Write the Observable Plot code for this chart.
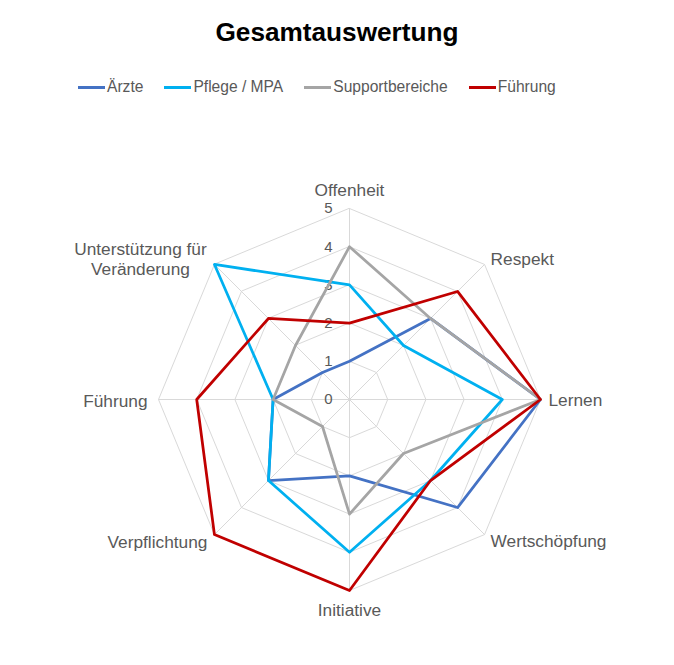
<!DOCTYPE html>
<html>
<head>
<meta charset="utf-8">
<script src="https://cdn.jsdelivr.net/npm/d3@7"></script>
<script src="https://cdn.jsdelivr.net/npm/@observablehq/plot@0.6"></script>
<style>
  html, body { margin: 0; padding: 0; background: #fff; }
  body { width: 674px; height: 665px; position: relative; font-family: "Liberation Sans", Arial, sans-serif; overflow: hidden; }
  #header { position: relative; width: 674px; height: 110px; }
  #title { position: absolute; left: 0; width: 674px; top: 17px; text-align: center; font-weight: bold; font-size: 26.2px; line-height: 30px; color: #000; }
  #legend { position: absolute; left: 78px; top: 78px; display: flex; align-items: center; font-size: 15.6px; line-height: 18px; color: #595959; white-space: nowrap; }
  .item { display: flex; align-items: center; margin-right: 21px; }
  .sw { display: inline-block; width: 27px; height: 3px; margin-right: 2px; }
</style>
</head>
<body>
<div id="header">
  <div id="title">Gesamtauswertung</div>
  <div id="legend"></div>
</div>
<div id="chart"></div>
<script>
const categories = ["Offenheit", "Respekt", "Lernen", "Wertschöpfung", "Initiative", "Verpflichtung", "Führung", "Unterstützung für\nVeränderung"];
const seriesNames = ["Ärzte", "Pflege / MPA", "Supportbereiche", "Führung"];
const aerzte   = [1, 3, 5, 4, 2, 3, 2, 1];
const pflege   = [3, 2, 4, 3, 4, 3, 2, 5];
const support  = [4, 3, 5, 2, 3, 1, 2, 2];
const fuehrung = [2, 4, 5, 3, 5, 5, 4, 3];
const tickValues = [0, 1, 2, 3, 4, 5];
const ringLevels = [1, 2, 3, 4, 5];
const seriesColors = ["#4472C4", "#00B0F0", "#A5A5A5", "#C00000"];

const seriesValues = [aerzte, pflege, support, fuehrung];
const N = categories.length;
const angle = i => i * 2 * Math.PI / N;
const maxV = 5;

// legend
const legend = document.getElementById("legend");
seriesNames.forEach((name, k) => {
  const it = document.createElement("div");
  it.className = "item";
  const sw = document.createElement("span");
  sw.className = "sw";
  sw.style.background = seriesColors[k];
  const tx = document.createElement("span");
  tx.textContent = name;
  it.appendChild(sw); it.appendChild(tx);
  legend.appendChild(it);
});

// data tables
const seriesPts = [];
seriesNames.forEach((name, k) => {
  seriesValues[k].forEach((v, i) => {
    seriesPts.push({series: name, cat: categories[i], x: v * Math.sin(angle(i)), y: v * Math.cos(angle(i))});
  });
});
const ringPts = [];
ringLevels.forEach(l => categories.forEach((c, i) => ringPts.push({level: l, x: l * Math.sin(angle(i)), y: l * Math.cos(angle(i))})));
const spokes = categories.map((c, i) => ({cat: c, x2: maxV * Math.sin(angle(i)), y2: maxV * Math.cos(angle(i))}));
const ticksData = tickValues.map(t => ({t, label: String(t)}));
const labelPts = categories.map((c, i) => ({cat: c, i, x: maxV * Math.sin(angle(i)), y: maxV * Math.cos(angle(i))}));

const W = 674, H = 555, cx = 349, cy = 289, unit = 191 / maxV;
const txt = "#595959";
const font = "Liberation Sans, Arial, sans-serif";

function labelMark(i, anchor, dx, dy) {
  return Plot.text(labelPts.filter(d => d.i === i), {
    x: "x", y: "y", text: "cat", textAnchor: anchor, lineAnchor: "middle",
    dx, dy, fontSize: 17.3, lineHeight: 1.2, fill: txt
  });
}

const marks = [
  Plot.link(spokes, {x1: () => 0, y1: () => 0, x2: "x2", y2: "y2", stroke: "#D9D9D9", strokeWidth: 1}),
  Plot.line(ringPts, {x: "x", y: "y", z: "level", curve: "linear-closed", stroke: "#D9D9D9", strokeWidth: 1}),
  Plot.text(ticksData, {x: () => 0, y: "t", text: "label", textAnchor: "end", dx: -17, fontSize: 15, fill: txt}),
  ...seriesNames.map((name, k) => Plot.line(seriesPts.filter(d => d.series === name), {
    x: "x", y: "y", curve: "linear-closed", stroke: seriesColors[k], strokeWidth: 2.75, strokeLinejoin: "round"
  })),
  labelMark(0, "middle", 0, -19),
  labelMark(1, "start", 6, -6),
  labelMark(2, "start", 8, 0),
  labelMark(3, "start", 6, 6),
  labelMark(4, "middle", 0, 19),
  labelMark(5, "end", -7, 7),
  labelMark(6, "end", -11, 1),
  labelMark(7, "middle", -74, -6)
];

const plot = Plot.plot({
  width: W, height: H,
  marginTop: 0, marginBottom: 0, marginLeft: 0, marginRight: 0,
  x: {domain: [-cx / unit, (W - cx) / unit], axis: null},
  y: {domain: [-(H - cy) / unit, cy / unit], axis: null},
  style: {fontFamily: font, background: "#fff", overflow: "visible"},
  marks
});
document.getElementById("chart").appendChild(plot);
</script>
</body>
</html>
